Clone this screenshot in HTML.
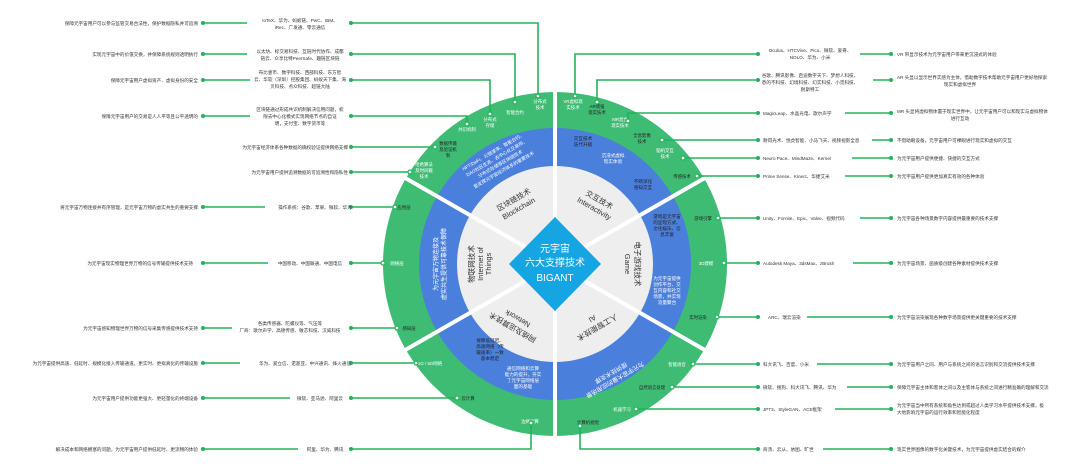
<!DOCTYPE html>
<html><head><meta charset="utf-8"><style>
html,body{margin:0;padding:0;background:#fff;}
svg{display:block;font-family:"Liberation Sans","Noto Sans CJK SC",sans-serif;}
.t{font-size:4.6px;fill:#333;}
.m{font-size:4.6px;fill:#333;text-anchor:middle;}
.r{font-size:4.6px;fill:#333;text-anchor:end;}
.g{font-size:4.4px;fill:#fff;text-anchor:middle;}
.gd{font-size:4.4px;fill:#222;text-anchor:middle;}
.ln{stroke:#22b35a;stroke-width:1.6;fill:none;}
.dot{fill:#22b35a;}
.nd{fill:#fff;stroke:#22b35a;stroke-width:1.2;}
.sec{font-size:9px;fill:#333;text-anchor:middle;}
.sec2{font-size:7.5px;fill:#333;text-anchor:middle;}
.bw{font-size:6px;fill:#fff;text-anchor:middle;}
.bs{font-size:4.6px;fill:#fff;text-anchor:middle;}
.bsd{font-size:4.6px;fill:#222;text-anchor:middle;}
</style></head><body>
<svg width="1080" height="468" viewBox="0 0 1080 468">
<!-- rings -->
<circle cx="555" cy="264" r="172" fill="#3fbc74"/>
<circle cx="555" cy="264" r="136" fill="#4a7fdc"/>
<circle cx="555" cy="264" r="98" fill="#eeeeee"/>
<!-- dividers -->
<g stroke="#fff" stroke-width="4">
<line x1="555" y1="264" x2="555" y2="85"/>
<line x1="555" y1="264" x2="555" y2="445"/>
<line x1="555" y1="264" x2="400" y2="175"/>
<line x1="555" y1="264" x2="400" y2="353"/>
<line x1="555" y1="264" x2="710" y2="175"/>
<line x1="555" y1="264" x2="710" y2="353"/>
</g>
<!-- diamond -->
<polygon points="555,217 601,264 555,311 509,264" fill="#15a5e3"/>
<text x="555" y="252" class="bw" style="font-size:10px">元宇宙</text>
<text x="555" y="266" class="bw" style="font-size:10px">六大支撑技术</text>
<text x="555" y="281" class="bw" style="font-size:10px">BIGANT</text>

<!-- sector labels -->
<g transform="translate(515,202) rotate(-30)"><text class="sec2" y="0">区块链技术</text><text class="sec2" y="10">Blockchain</text></g>
<g transform="translate(598,202) rotate(30)"><text class="sec2" y="0">交互技术</text><text class="sec2" y="10">Interactivity</text></g>
<g transform="translate(635,264) rotate(90)"><text class="sec2" y="0">电子游戏技术</text><text class="sec2" y="10">Game</text></g>
<g transform="translate(596,325) rotate(150)"><text class="sec2" y="0">人工智能技术</text><text class="sec2" y="10">AI</text></g>
<g transform="translate(514,325) rotate(210)"><text class="sec2" y="0">网络及运算技术</text><text class="sec2" y="10">Network</text></g>
<g transform="translate(478,264) rotate(-90)"><text class="sec2" y="-4">物联网技术</text><text class="sec2" y="5">Internet of</text><text class="sec2" y="13">Things</text></g>

<!-- blue ring texts -->
<g transform="translate(498,160) rotate(-30)"><text class="bs" y="-8">NFT/DeFi、公链速率、智能合约、</text><text class="bs" y="-1">DAO社区生态、去中心化交易所、</text><text class="bs" y="6">分布式存储等区块链技术</text><text class="bs" y="13">是支撑元宇宙经济体系的重要技术</text></g>
<g transform="translate(438,264) rotate(-90)"><text class="bs" y="0" style="font-size:6px">为元宇宙万物连接及</text><text class="bs" y="8" style="font-size:6px">虚实共生提供可靠技术保障</text></g>
<text x="583" y="140" class="bsd">交互技术</text><text x="583" y="146" class="bsd">迭代升级</text>
<text x="613" y="157" class="bs">沉浸式虚拟</text><text x="613" y="163" class="bs">现实体验</text>
<text x="643" y="183" class="bsd">不断深化</text><text x="643" y="189" class="bsd">感知交互</text>
<text x="667" y="218" class="bsd">游戏是元宇宙</text><text x="667" y="224" class="bsd">的呈现方式、</text><text x="667" y="230" class="bsd">文化娱乐、信</text><text x="667" y="236" class="bsd">息丰富</text>
<text x="667" y="280" class="bs">为元宇宙提供</text><text x="667" y="286" class="bs">创作平台、交</text><text x="667" y="292" class="bs">互内容和社交</text><text x="667" y="298" class="bs">场景，并实现</text><text x="667" y="304" class="bs">流量聚合</text>
<g transform="translate(614,378) rotate(150)"><text class="bs" y="0" style="font-size:6px">为元宇宙大量的应用场景</text><text class="bs" y="8" style="font-size:6px">提供技术支撑</text></g>
<text x="490" y="342" class="bsd">保障低延迟、</text><text x="490" y="348" class="bsd">高速网络（传</text><text x="490" y="354" class="bsd">输速率）一致</text><text x="490" y="360" class="bsd">基本稳定</text>
<text x="523" y="370" class="bs">通信网络和云算</text><text x="523" y="376" class="bs">能力的提升，夯实</text><text x="523" y="382" class="bs">了元宇宙网络层</text><text x="523" y="388" class="bs">面的基础</text>

<!-- green ring labels -->
<text x="540" y="103" class="g">分布式</text><text x="540" y="109" class="g">技术</text>
<text x="515" y="114" class="g">智能合约</text>
<text x="490" y="121" class="g">分布式</text><text x="490" y="127" class="g">存储</text>
<text x="467" y="131" class="g">共识机制</text>
<text x="448" y="145" class="gd">数据传输</text><text x="448" y="151" class="gd">及验证机</text><text x="448" y="157" class="gd">制</text>
<text x="424" y="166" class="g">哈希算法</text><text x="424" y="172" class="g">及时间戳</text><text x="424" y="178" class="g">技术</text>
<text x="404" y="209" class="gd">应用层</text>
<text x="397" y="265" class="g">网络层</text>
<text x="409" y="330" class="gd">感知层</text>
<text x="430" y="365" class="g">5G / 6G网络</text>
<text x="468" y="400" class="gd">云计算</text>
<text x="530" y="423" class="g">边缘计算</text>
<text x="573" y="103" class="g">VR虚拟现</text><text x="573" y="109" class="g">实技术</text>
<text x="597" y="108" class="gd">AR增强</text><text x="597" y="114" class="gd">现实技术</text>
<text x="620" y="121" class="g">MR混合</text><text x="620" y="127" class="g">现实技术</text>
<text x="642" y="137" class="gd">全息影像</text><text x="642" y="143" class="gd">技术</text>
<text x="665" y="152" class="g">脑机交互</text><text x="665" y="158" class="g">技术</text>
<text x="682" y="178" class="gd">传感技术</text>
<text x="703" y="220" class="gd">游戏引擎</text>
<text x="706" y="265" class="g">3D建模</text>
<text x="698" y="319" class="gd">实时渲染</text>
<text x="677" y="366" class="g">智能语音</text>
<text x="652" y="389" class="gd">自然语言处理</text>
<text x="622" y="411" class="g">机器学习</text>
<text x="588" y="424" class="gd">计算机视觉</text>

<!-- left connectors -->
<g class="ln">
<path d="M203,23 H247 M351,23 H538 V96"/>
<path d="M203,54 H247 M351,54 H515 V102"/>
<path d="M203,80 H250 M351,80 H490 V114"/>
<path d="M203,116 H250 M351,116 H467 V124"/>
<path d="M351,147 H433"/>
<path d="M351,172 H408"/>
<path d="M203,207 H265 M351,207 H393"/>
<path d="M203,263 H268 M351,263 H381"/>
<path d="M203,328 H232 M351,328 H395"/>
<path d="M203,363 H240 M351,363 H414"/>
<path d="M203,398 H290 M351,398 H455"/>
<path d="M203,449 H298 M351,449 H531 V425"/>
</g>
<g class="dot">
<circle cx="203" cy="23" r="2"/><circle cx="351" cy="23" r="2"/>
<circle cx="203" cy="54" r="2"/><circle cx="351" cy="54" r="2"/>
<circle cx="203" cy="80" r="2"/><circle cx="351" cy="80" r="2"/>
<circle cx="203" cy="116" r="2"/><circle cx="351" cy="116" r="2"/>
<circle cx="351" cy="147" r="2"/><circle cx="351" cy="172" r="2"/>
<circle cx="203" cy="207" r="2"/><circle cx="351" cy="207" r="2"/>
<circle cx="203" cy="263" r="2"/><circle cx="351" cy="263" r="2"/>
<circle cx="203" cy="328" r="2"/><circle cx="351" cy="328" r="2"/>
<circle cx="203" cy="363" r="2"/><circle cx="351" cy="363" r="2"/>
<circle cx="203" cy="398" r="2"/><circle cx="351" cy="398" r="2"/>
<circle cx="203" cy="449" r="2"/><circle cx="351" cy="449" r="2"/>
</g>
<g class="nd">
<circle cx="538" cy="96" r="2"/><circle cx="515" cy="102" r="2"/><circle cx="490" cy="114" r="2"/><circle cx="467" cy="124" r="2"/>
<circle cx="435" cy="147" r="2"/><circle cx="410" cy="172" r="2"/><circle cx="395" cy="207" r="2"/><circle cx="383" cy="263" r="2"/>
<circle cx="397" cy="328" r="2"/><circle cx="416" cy="363" r="2"/><circle cx="457" cy="398" r="2"/><circle cx="531" cy="423" r="2"/>
</g>
<!-- left texts -->
<text x="198" y="25" class="r">保障元宇宙用户可以参与监管交易合法性，保护数据隐私并可追溯</text>
<text x="198" y="56" class="r">实现元宇宙中的价值交换，并保障系统规则透明执行</text>
<text x="198" y="82" class="r">保障元宇宙用户虚拟资产、虚拟身份的安全</text>
<text x="198" y="118" class="r">保障元宇宙用户的交易是人人平等且公平透明的</text>
<text x="198" y="209" class="r">将元宇宙万物连接并有序管理，是元宇宙万物的虚实共生的重要支撑</text>
<text x="193" y="265" class="r">为元宇宙现实物理世界万物的信号传输提供技术支持</text>
<text x="198" y="330" class="r">为元宇宙感知物理世界万物的信号采集传感提供技术支持</text>
<text x="198" y="365" class="r">为元宇宙提供高速、低延时、规模化接入传输通道，更实时、更拟真化的传输设施</text>
<text x="198" y="400" class="r">为元宇宙用户提供功能更强大、更轻量化的终端设备</text>
<text x="198" y="451" class="r">解决成本和网络拥塞的问题，为元宇宙用户提供低延时、更流畅的体验</text>
<text x="300" y="22" class="m">IoTeX、华为、蚂蚁链、PwC、IBM、</text><text x="300" y="29" class="m">iRec、广发通、零云通信</text>
<text x="300" y="53" class="m">以太坊、标交易科技、互链时代协作、成都</text><text x="300" y="60" class="m">链云、众享比特PeerSafe、趣链区块链</text>
<text x="300" y="74" class="m">布比壹币、数字科技、西部科技、东方智</text><text x="300" y="81" class="m">云、华软（深圳）控股集团、蚂蚁天下集、海</text><text x="300" y="88" class="m">贝科技、点众科技、超链大陆</text>
<text x="300" y="111" class="m">区块链通过形成共识机制解决信用问题，权</text><text x="300" y="118" class="m">限去中心化模式实现网络节点的自证</text><text x="300" y="125" class="m">明，支付宝、数字货币等</text>
<text x="348" y="149" class="r">为元宇宙经济体系各种数据的确权验证提供网络支撑</text>
<text x="348" y="174" class="r">为元宇宙用户提供追溯数据的可追溯性和隐私性</text>
<text x="315" y="209" class="m">操作系统：谷歌、苹果、微软、华为</text>
<text x="310" y="265" class="m">中国移动、中国联通、中国电信</text>
<text x="290" y="325" class="m">各类传感器、陀螺仪等、气压等</text><text x="290" y="332" class="m">厂商：歌尔声学、高德传感、敏芯科技、汉威科技</text>
<text x="305" y="365" class="m">华为、爱立信、诺基亚、中兴通讯、烽火通信</text>
<text x="320" y="400" class="m">微软、亚马逊、阿里云</text>
<text x="325" y="451" class="m">阿里、华为、腾讯</text>

<!-- right connectors -->
<g class="ln">
<path d="M575,96 V54 H758 M860,54 H891"/>
<path d="M597,102 V80 H758 M873,80 H891"/>
<path d="M628,121 V113 H758 M845,113 H891"/>
<path d="M662,140 H758 M872,140 H891"/>
<path d="M683,158 H758 M852,158 H891"/>
<path d="M697,176 H758 M845,176 H891"/>
<path d="M718,218 H758 M860,218 H891"/>
<path d="M724,263 H758 M853,263 H891"/>
<path d="M717,317 H758 M807,317 H891"/>
<path d="M693,364 H758 M817,364 H891"/>
<path d="M672,387 H758 M847,387 H891"/>
<path d="M636,409 H758 M835,409 H891"/>
<path d="M580,426 V449 H758 M823,449 H891"/>
</g>
<g class="dot">
<circle cx="758" cy="54" r="2"/><circle cx="891" cy="54" r="2"/>
<circle cx="758" cy="80" r="2"/><circle cx="891" cy="80" r="2"/>
<circle cx="758" cy="113" r="2"/><circle cx="891" cy="113" r="2"/>
<circle cx="758" cy="140" r="2"/><circle cx="891" cy="140" r="2"/>
<circle cx="758" cy="158" r="2"/><circle cx="891" cy="158" r="2"/>
<circle cx="758" cy="176" r="2"/><circle cx="891" cy="176" r="2"/>
<circle cx="758" cy="218" r="2"/><circle cx="891" cy="218" r="2"/>
<circle cx="758" cy="263" r="2"/><circle cx="891" cy="263" r="2"/>
<circle cx="758" cy="317" r="2"/><circle cx="891" cy="317" r="2"/>
<circle cx="758" cy="364" r="2"/><circle cx="891" cy="364" r="2"/>
<circle cx="758" cy="387" r="2"/><circle cx="891" cy="387" r="2"/>
<circle cx="758" cy="409" r="2"/><circle cx="891" cy="409" r="2"/>
<circle cx="758" cy="449" r="2"/><circle cx="891" cy="449" r="2"/>
</g>
<g class="nd">
<circle cx="575" cy="96" r="2"/><circle cx="597" cy="102" r="2"/><circle cx="628" cy="121" r="2"/><circle cx="662" cy="140" r="2"/>
<circle cx="683" cy="158" r="2"/><circle cx="697" cy="176" r="2"/><circle cx="718" cy="218" r="2"/><circle cx="724" cy="263" r="2"/>
<circle cx="717" cy="317" r="2"/><circle cx="693" cy="364" r="2"/><circle cx="672" cy="387" r="2"/><circle cx="636" cy="409" r="2"/><circle cx="580" cy="426" r="2"/>
</g>
<text x="810" y="52" class="m">Oculus、HTCVive、Pico、微软、爱奇、</text><text x="810" y="59" class="m">NOLO、华为、小米</text>
<text x="810" y="77" class="m">谷歌、腾讯影像、启迪数字天下、梦想人科技、</text><text x="810" y="84" class="m">悉的不科技、幻境科技、幻实科技、小觅科技、</text><text x="810" y="91" class="m">耐斯特工</text>
<text x="763" y="115" class="t">MagicLeap、水晶光电、歌尔声学</text>
<text x="763" y="142" class="t">耐得光术、悦虎智能、小马飞天、视频视影全息</text>
<text x="763" y="160" class="t">Neuro Pace、MindMaze、Kernel</text>
<text x="763" y="178" class="t">Prime Sense、Kinect、华捷艾米</text>
<text x="763" y="220" class="t">Unity、Fornite、Epic、Valve、视频代码</text>
<text x="763" y="265" class="t">Autodesk Maya、3dsMax、zBrush</text>
<text x="768" y="319" class="t">ARC、瑞云渲染</text>
<text x="763" y="366" class="t">科大讯飞、百度、小米</text>
<text x="763" y="389" class="t">微软、搜狗、科大讯飞、腾讯、华为</text>
<text x="763" y="411" class="t">JPT3、StyleGAN、ACE框架</text>
<text x="763" y="451" class="t">商汤、云从、依图、旷世</text>
<text x="897" y="56" class="t">VR 带显示技术为元宇宙用户带来更沉浸式的体验</text>
<text x="897" y="79" class="t">AR 头显以显示世界实感为主体，借助数字技术帮助元宇宙用户更好地探索</text><text x="960" y="86" class="m">现实和虚拟世界</text>
<text x="897" y="113" class="t">MR 头显将虚拟物体置于现实世界中，让元宇宙用户可以和现实与虚拟物体</text><text x="960" y="120" class="m">进行互动</text>
<text x="897" y="142" class="t">不借助眼设备，元宇宙用户可裸眼进行现实和虚拟的交互</text>
<text x="897" y="160" class="t">为元宇宙用户提供便捷、快捷的交互方式</text>
<text x="897" y="178" class="t">为元宇宙用户提供更加真实有效的各种体验</text>
<text x="897" y="220" class="t">为元宇宙各种场景数字内容提供最重要的技术支撑</text>
<text x="897" y="265" class="t">为元宇宙场景、画质级创建各种素材提供技术支撑</text>
<text x="897" y="319" class="t">为元宇宙渲染展现各种数字场景提供更关键重要的技术支撑</text>
<text x="897" y="366" class="t">为元宇宙用户之间、用户与系统之间的语言识别和交流提供技术支撑</text>
<text x="897" y="389" class="t">保障元宇宙主体和客体之间以及主客体与系统之间进行精准确的理解和交流</text>
<text x="897" y="407" class="t">为元宇宙当中所有系统和角色达到或超过人类学习水平提供技术支撑，极</text><text x="897" y="414" class="t">大地影响元宇宙的运行效率和智能化程度</text>
<text x="897" y="451" class="t">现实世界图像的数字化关键技术，为元宇宙提供虚实结合的媒介</text>
</svg>
</body></html>
